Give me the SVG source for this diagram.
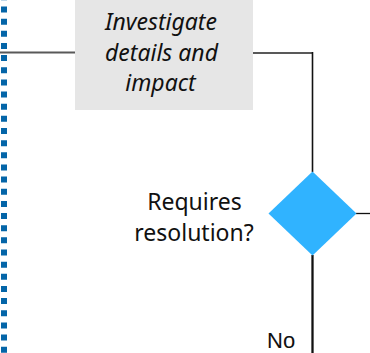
<svg xmlns="http://www.w3.org/2000/svg" width="370" height="353" viewBox="0 0 370 353">
<style>
.t{font-family:"Noto Sans","Open Sans","Liberation Sans",sans-serif;font-size:23px;fill:#111}
.it{font-style:italic}
.no{font-family:"Liberation Sans",Arial,sans-serif;font-size:22px;fill:#111}
.gray{stroke:#595959;stroke-width:2;fill:none}
.blk{stroke:#111;fill:none}
</style>
<g id="lane">
<line x1="4" y1="0" x2="4" y2="353" stroke="#0465A8" stroke-width="6" stroke-dasharray="6 6.15" stroke-dashoffset="5.65"/>
</g>
<g id="connectors">
<line class="gray" x1="0" y1="52.5" x2="75" y2="52.5"/>
<polyline class="gray" points="253,53 313,53"/>
<line class="blk" x1="312.5" y1="52" x2="312.5" y2="172" stroke-width="1.6"/>
<line class="blk" x1="356" y1="213.5" x2="370" y2="213.5" stroke-width="1.3"/>
<line class="blk" x1="312.5" y1="255" x2="312.5" y2="353" stroke-width="2.3"/>
</g>
<g id="investigate">
<rect x="75" y="-10" width="178" height="120" fill="#E6E6E6"/>
<text class="t it" text-anchor="middle" x="161" y="29.5">Investigate</text>
<text class="t it" text-anchor="middle" x="161.5" y="60.5">details and</text>
<text class="t it" text-anchor="middle" x="160.5" y="90.5">impact</text>
</g>
<g id="decision">
<polygon points="312.5,171.5 356.5,213.5 312.5,255.5 268.5,213.5" fill="#30B3FF"/>
<text class="t" text-anchor="middle" x="194.5" y="209.5">Requires</text>
<text class="t" text-anchor="middle" x="194" y="240.5">resolution?</text>
</g>
<g id="no-label">
<text class="no" x="267" y="348">No</text>
</g>
</svg>
